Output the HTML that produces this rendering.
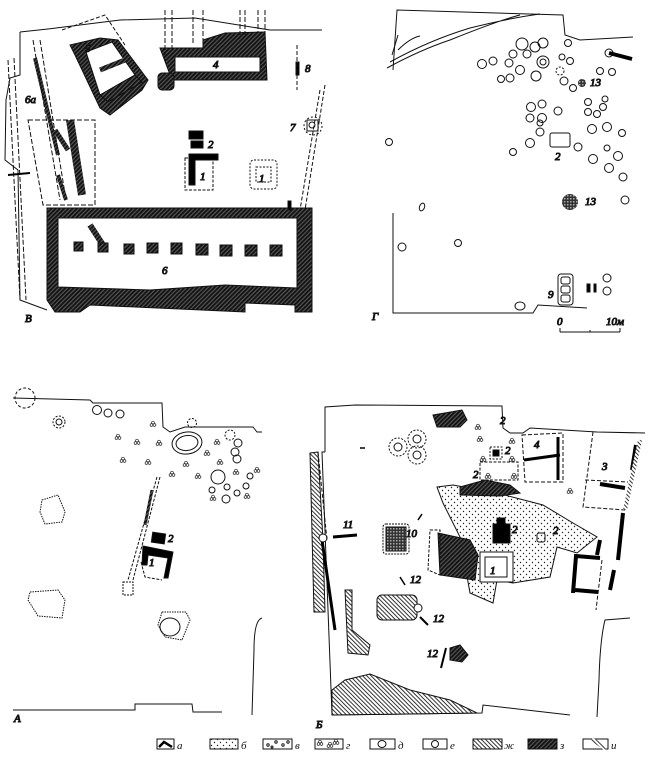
<!DOCTYPE html>
<html><head><meta charset="utf-8"><style>
html,body{margin:0;padding:0;background:#fff}
svg{display:block}
text{font-family:"Liberation Serif",serif;font-style:italic;font-size:11px;fill:#111}
</style></head><body>
<svg width="650" height="763" viewBox="0 0 650 763" xmlns="http://www.w3.org/2000/svg">
<defs>
<pattern id="h" width="3" height="3" patternUnits="userSpaceOnUse" patternTransform="rotate(45)"><rect width="3" height="3" fill="#555"/><rect width="1.8" height="3" fill="#111"/></pattern>
<pattern id="d" width="6" height="6" patternUnits="userSpaceOnUse"><circle cx="1.5" cy="1.5" r="0.7" fill="#222"/><circle cx="4.5" cy="4.5" r="0.7" fill="#222"/></pattern>
<pattern id="f" width="3" height="3" patternUnits="userSpaceOnUse" patternTransform="rotate(-45)"><rect width="3" height="3" fill="#fff"/><rect width="1" height="3" fill="#333"/></pattern>
<pattern id="x" width="3" height="3" patternUnits="userSpaceOnUse"><rect width="3" height="3" fill="#333"/><rect width="1.5" height="1.5" fill="#aaa"/></pattern>
<g id="tr"><circle cx="-1.5" cy="0" r="1.4" fill="none" stroke="#222" stroke-width="0.7"/><circle cx="1.5" cy="0" r="1.4" fill="none" stroke="#222" stroke-width="0.7"/><circle cx="0" cy="-2.4" r="1.4" fill="none" stroke="#222" stroke-width="0.7"/></g>
</defs>
<g fill="none" stroke="#111" stroke-width="1">

<!-- ===== В (top-left) ===== -->
<path d="M20,32 L48,29 L120,20 L195,18 L270,30 L322,30"/>
<path d="M20,32 L20,75 L10,78 L6,100 L5,160 L18,170 L20,300 L47,310"/>
<path d="M325,85 L305,210" stroke-dasharray="4,2"/>
<path d="M320,90 L300,210" stroke-dasharray="4,2"/>
<path d="M8,60 L20,300" stroke-dasharray="5,2"/>
<path d="M14,58 L26,300" stroke-dasharray="5,2"/>
<path d="M47,208 L312,208 L312,312 L295,312 L295,305 L245,303 L245,312 L90,305 L80,312 L55,312 L47,300 Z" fill="url(#h)"/>
<path d="M58,218 L297,218 L297,288 L225,285 L150,290 L58,287 Z" fill="#fff"/>
<path d="M90,225 L103,245" stroke="url(#h)" stroke-width="6"/>
<g fill="url(#h)">
<rect x="74" y="242" width="9" height="9"/><rect x="98" y="243" width="10" height="9"/><rect x="124" y="244" width="10" height="10"/><rect x="147" y="243" width="11" height="10"/><rect x="171" y="243" width="11" height="11"/><rect x="196" y="244" width="12" height="11"/><rect x="220" y="245" width="12" height="11"/><rect x="245" y="245" width="12" height="11"/><rect x="270" y="245" width="12" height="11"/>
</g>
<path d="M70,45 L100,38 L118,40 L148,80 L142,90 L110,115 L100,108 L75,55 Z" fill="url(#h)"/>
<path d="M86,52 L112,42 L135,75 L100,95 Z" fill="#fff"/>
<path d="M100,95 L135,75 L142,82 L108,102 Z" fill="url(#h)"/>
<path d="M100,70 L125,60" stroke="url(#h)" stroke-width="5"/>
<path d="M62,30 L105,15 L125,45" stroke-dasharray="4,2"/>
<path d="M160,48 L203,48 L203,40 L225,33 L265,32 L267,80 L172,80 Z" fill="url(#h)"/>
<path d="M175,57 L260,57 L260,72 L175,72 Z" fill="#fff"/>
<rect x="158" y="73" width="16" height="17" rx="4" fill="url(#h)"/>
<path d="M165,10 L165,60 M172,10 L172,50 M193,10 L193,45 M203,10 L203,45 M240,10 L240,35 M245,10 L245,35 M258,10 L258,33 M265,10 L265,33" stroke-dasharray="5,2"/>
<path d="M35,58 L58,155" stroke="url(#h)" stroke-width="4"/>
<path d="M33,40 L60,200 M40,40 L66,200" stroke-dasharray="5,2"/>
<path d="M70,120 L82,195" stroke="url(#h)" stroke-width="8"/>
<path d="M28,120 L95,120 L95,205 L43,205 Z" stroke-dasharray="5,2"/>
<path d="M55,130 L68,150" stroke="url(#h)" stroke-width="5"/>
<path d="M58,175 L66,200" stroke="url(#h)" stroke-width="4"/>
<path d="M8,175 L30,173" stroke="#000" stroke-width="2"/>
<rect x="189" y="131" width="14" height="8" fill="#000"/><rect x="191" y="141" width="12" height="7" fill="#000"/>
<path d="M185,158 L213,158 L213,190 L185,190 Z" stroke-dasharray="3,1.5"/>
<path d="M189,154 L218,154 L218,160 L195,160 L195,185 L189,185 Z" fill="#000"/>
<rect x="250" y="160" width="27" height="29" rx="4" stroke-dasharray="2,1.5"/>
<rect x="256" y="167" width="15" height="15" stroke-dasharray="2,1.5"/>
<circle cx="313" cy="126" r="9" stroke-dasharray="2,2"/><rect x="307" y="120" width="11" height="11"/><circle cx="312" cy="125" r="3"/>
<rect x="296" y="62" width="3" height="13" fill="#000"/><path d="M297,45 L297,90" stroke-dasharray="4,2"/>
<rect x="288" y="201" width="3" height="9" fill="#000"/>
<text x="85" y="52">5</text><text x="213" y="68">4</text><text x="25" y="103">6a</text><text x="305" y="72">8</text><text x="290" y="131">7</text><text x="208" y="148">2</text><text x="200" y="180">1</text><text x="259" y="182">1</text><text x="162" y="274">6</text><text x="25" y="322" font-size="13">В</text>

<!-- ===== Г ===== -->
<path d="M393,70 L397,10 L563,15 L565,35 L580,40 L633,37"/>
<path d="M387,68 Q420,50 450,40 Q500,20 520,15 M390,62 Q430,40 470,28 Q510,18 540,14 M392,55 L398,35 M398,50 Q410,38 420,36"/>
<path d="M393,213 L393,313 L533,313 L538,305 L587,308"/>
<path d="M560,332 L620,332 M560,328 L560,332 M590,330 L590,332 M620,328 L620,332"/>
<text x="557" y="325">0</text><text x="606" y="325">10м</text><text x="372" y="320" font-size="13">Г</text>
<g>
<circle cx="522" cy="44" r="6"/><circle cx="535" cy="47" r="5"/><circle cx="543" cy="43" r="5"/><circle cx="568" cy="43" r="3.5"/><circle cx="513" cy="54" r="4"/><circle cx="527" cy="54" r="4"/><circle cx="482" cy="64" r="4.5"/><circle cx="493" cy="61" r="4"/><circle cx="509" cy="63" r="4"/><circle cx="543" cy="62" r="6"/><circle cx="543" cy="62" r="3"/><circle cx="562" cy="57" r="3"/><circle cx="570" cy="61" r="3.5"/><circle cx="520" cy="70" r="4.5"/><circle cx="510" cy="78" r="4"/><circle cx="501" cy="79" r="3.5"/><circle cx="536" cy="76" r="5"/><circle cx="564" cy="81" r="4"/><circle cx="573" cy="88" r="3.5"/><circle cx="600" cy="71" r="3.5"/><circle cx="612" cy="72" r="3.5"/><circle cx="609" cy="53" r="4"/>
<circle cx="531" cy="107" r="4.5"/><circle cx="542" cy="104" r="4"/><circle cx="558" cy="111" r="4"/><circle cx="530" cy="118" r="4"/><circle cx="542" cy="118" r="4.5"/><circle cx="540" cy="123" r="3"/><circle cx="540" cy="132" r="4"/><circle cx="530" cy="143" r="4.5"/><circle cx="513" cy="152" r="3.5"/><circle cx="578" cy="147" r="4"/><circle cx="588" cy="102" r="3.5"/><circle cx="605" cy="99" r="3"/><circle cx="603" cy="107" r="3.5"/><circle cx="588" cy="112" r="3.5"/><circle cx="597" cy="114" r="3.5"/><circle cx="592" cy="129" r="4.5"/><circle cx="607" cy="127" r="4.5"/><circle cx="622" cy="133" r="3.5"/><circle cx="607" cy="148" r="3"/><circle cx="618" cy="156" r="4.5"/><circle cx="593" cy="159" r="4.5"/><circle cx="609" cy="168" r="4.5"/><circle cx="623" cy="177" r="4"/><circle cx="625" cy="200" r="4"/><circle cx="389" cy="142" r="3.5"/><ellipse cx="422" cy="207" rx="2.5" ry="4" transform="rotate(20 422 207)"/><circle cx="402" cy="247" r="4"/><circle cx="458" cy="243" r="3.5"/><ellipse cx="520" cy="306" rx="5" ry="4"/><circle cx="607" cy="278" r="4"/><circle cx="607" cy="291" r="4"/>
</g>
<circle cx="560" cy="71" r="4" stroke-dasharray="2,1.5"/>
<path d="M609,53 L632,59" stroke="#000" stroke-width="4"/>
<rect x="550" y="133" width="20" height="14" rx="2"/>
<circle cx="582" cy="83" r="4" fill="url(#x)" stroke="none"/><circle cx="570" cy="202" r="8" fill="url(#x)" stroke="none"/>
<rect x="558" y="274" width="15" height="31" rx="3"/><rect x="561" y="277" width="9" height="7" rx="2"/><rect x="561" y="286" width="9" height="7" rx="2"/><rect x="561" y="295" width="9" height="7" rx="2"/>
<rect x="587" y="284" width="3" height="8" fill="#000"/><rect x="594" y="284" width="2" height="8" fill="#000"/>
<text x="590" y="86">13</text><text x="555" y="160">2</text><text x="585" y="205">13</text><text x="548" y="298">9</text>

<!-- ===== А ===== -->
<path d="M13,398 L90,400 L93,403 L162,403 L163,427 L170,432 L185,427 L253,427 L257,432 L262,432"/>
<circle cx="25" cy="398" r="10" stroke-dasharray="3,2"/>
<circle cx="59" cy="422" r="6" stroke-dasharray="2,1.5"/><circle cx="59" cy="422" r="3"/>
<circle cx="97" cy="410" r="4.5"/><circle cx="108" cy="413" r="4"/><circle cx="120" cy="414" r="4"/>
<ellipse cx="187" cy="443" rx="15" ry="11" transform="rotate(-8 187 443)"/><ellipse cx="187" cy="443" rx="11" ry="7.5" transform="rotate(-8 187 443)"/>
<circle cx="192" cy="423" r="4.5" stroke-dasharray="2,1.5"/><circle cx="230" cy="435" r="5" stroke-dasharray="2,1.5"/>
<circle cx="238" cy="443" r="4"/><circle cx="235" cy="452" r="4"/><circle cx="237" cy="459" r="4"/><circle cx="218" cy="477" r="7"/><circle cx="227" cy="487" r="3"/><circle cx="212" cy="490" r="3"/><circle cx="237" cy="493" r="3"/><circle cx="246" cy="486" r="3"/><circle cx="226" cy="499" r="4"/><circle cx="250" cy="476" r="3"/>
<g>
<use href="#tr" x="153" y="425"/><use href="#tr" x="118" y="438"/><use href="#tr" x="137" y="443"/><use href="#tr" x="159" y="444"/><use href="#tr" x="123" y="461"/><use href="#tr" x="148" y="463"/><use href="#tr" x="172" y="475"/><use href="#tr" x="186" y="465"/><use href="#tr" x="198" y="477"/><use href="#tr" x="207" y="454"/><use href="#tr" x="217" y="443"/><use href="#tr" x="220" y="463"/><use href="#tr" x="236" y="473"/><use href="#tr" x="257" y="471"/><use href="#tr" x="213" y="499"/><use href="#tr" x="247" y="497"/>
</g>
<path d="M42,500 L58,495 L65,512 L62,522 L45,524 L40,512 Z" stroke-dasharray="1.5,1"/>
<path d="M30,592 L58,590 L65,600 L62,618 L38,616 L28,600 Z" stroke-dasharray="1.5,1"/>
<path d="M162,612 L186,612 L190,620 L182,640 L165,637 L158,625 Z" stroke-dasharray="1.5,1"/>
<ellipse cx="170" cy="627" rx="10" ry="9"/>
<path d="M157,477 L128,580 M160,477 L133,580" stroke-dasharray="3,1.5"/>
<path d="M152,490 L145,525" stroke="url(#h)" stroke-width="3"/>
<rect x="152" y="533" width="13" height="10" fill="#000" transform="rotate(8 158 538)"/>
<path d="M143,546 L173,552 L168,578 L164,578 L168,558 L148,555 L147,565 L142,565 Z" fill="#000"/>
<path d="M141,562 L145,577 L162,580" stroke-dasharray="3,1.5"/>
<rect x="123" y="582" width="10" height="13" stroke-dasharray="2,1"/>
<text x="168" y="542">2</text><text x="149" y="566">1</text>
<path d="M262,618 Q254,620 254,650 L252,715"/>
<path d="M13,710 L135,710 L135,704 L192,704 L193,712 L222,712"/>
<text x="14" y="722" font-size="13">А</text>

<!-- ===== Б ===== -->
<path d="M325,452 L325,407 L355,405 L502,406 L503,428 L510,433 L523,433 L530,428 L597,432 L645,433"/>
<path d="M325,452 L322,452 L332,715 L482,713 L483,705 L570,715"/>
<path d="M630,618 L605,620 Q600,640 599,680 L597,717"/>
<path d="M310,453 L318,452 L323,540 L325,612 L314,612 Z" fill="url(#f)"/>
<path d="M322,540 L335,630" stroke="#000" stroke-width="3"/>
<circle cx="323" cy="538" r="4" fill="#fff"/>
<path d="M318,452 L327,540" stroke-dasharray="4,2"/>
<path d="M332,690 L345,680 L370,674 L380,678 L410,690 L450,700 L477,713 L332,715 Z" fill="url(#f)"/>
<path d="M345,590 L352,590 L352,630 L370,645 L368,655 L348,653 Z" fill="url(#f)"/>
<path d="M437,487 L453,485 L497,493 L543,505 L573,523 L597,537 L577,553 L557,547 L550,577 L513,583 L497,580 L493,603 L470,593 L460,537 L443,503 Z" fill="url(#d)"/>
<path d="M438,533 L470,540 L478,555 L475,580 L440,575 Z" fill="url(#h)"/>
<path d="M430,530 L440,530 L440,575 L428,570 Z" stroke-dasharray="3,1.5"/>
<rect x="480" y="552" width="33" height="30" fill="#fff"/><rect x="485" y="557" width="22" height="20"/>
<path d="M497,518 L505,518 L505,524 L510,524 L510,543 L493,543 L493,524 L497,524 Z" fill="#000"/>
<rect x="537" y="533" width="8" height="9" rx="2"/>
<path d="M433,415 L462,410 L467,420 L460,427 L437,427 Z" fill="url(#h)"/>
<path d="M460,487 L485,480 L510,485 L520,493 L500,496 L460,495 Z" fill="url(#h)"/>
<circle cx="398" cy="447" r="9" stroke-dasharray="2,1.5"/><circle cx="398" cy="447" r="4"/>
<circle cx="417" cy="439" r="9" stroke-dasharray="2,1.5"/><circle cx="417" cy="439" r="4"/>
<circle cx="417" cy="455" r="9" stroke-dasharray="2,1.5"/><circle cx="417" cy="455" r="4"/>
<rect x="490" y="447" width="12" height="12" stroke-dasharray="2,1.5"/><rect x="493" y="450" width="6" height="6" fill="#000"/>
<path d="M480,462 L518,462 L518,480 L480,480 Z" stroke-dasharray="3,1.5"/>
<g><use href="#tr" x="478" y="428"/><use href="#tr" x="480" y="440"/><use href="#tr" x="512" y="442"/><use href="#tr" x="512" y="460"/><use href="#tr" x="483" y="460"/><use href="#tr" x="488" y="477"/><use href="#tr" x="514" y="477"/><use href="#tr" x="570" y="492"/></g>
<path d="M522,435 L563,433 L563,482 L525,482 Z" stroke-dasharray="4,2"/>
<path d="M524,460 L560,455" stroke="#000" stroke-width="3"/><path d="M558,437 L558,480" stroke="#000" stroke-width="3"/>
<path d="M593,432 L583,507 L625,510 M585,480 L628,482" stroke-dasharray="4,2"/>
<path d="M600,484 L625,488" stroke="#000" stroke-width="4"/><path d="M636,445 L632,470" stroke="#000" stroke-width="4"/>
<path d="M640,440 L625,510" stroke="url(#f)" stroke-width="4"/>
<path d="M623,513 L618,560 M614,570 L610,590" stroke="#000" stroke-width="4"/>
<path d="M573,593 L576,556 L600,558 M575,590 L598,592" stroke="#000" stroke-width="4"/>
<path d="M602,560 L596,610" stroke-dasharray="4,2"/>
<path d="M600,540 L597,555" stroke="#000" stroke-width="4"/>
<rect x="386" y="527" width="20" height="24" fill="url(#x)"/><rect x="383" y="524" width="26" height="30" rx="3" stroke-dasharray="2,1"/>
<path d="M333,537 L357,535" stroke="#000" stroke-width="3"/>
<rect x="377" y="595" width="40" height="25" rx="5" fill="url(#f)"/><circle cx="418" cy="608" r="4" fill="#fff"/>
<path d="M450,648 L460,645 L468,655 L462,662 L450,660 Z" fill="url(#h)"/>
<path d="M441,668 L446,648" stroke="#000" stroke-width="2"/><path d="M420,617 L428,625" stroke="#000" stroke-width="2"/><path d="M400,577 L405,585" stroke="#000" stroke-width="1.5"/>
<path d="M360,448 L365,448 M422,514 L418,520" stroke="#000" stroke-width="1.5"/>
<text x="500" y="424" font-size="9">2</text><text x="505" y="454" font-size="9">2</text><text x="473" y="478" font-size="9">2</text><text x="512" y="533">2</text><text x="553" y="534" font-size="9">2</text><text x="534" y="448">4</text><text x="602" y="470">3</text><text x="490" y="574">1</text>
<text x="343" y="528">11</text><text x="406" y="537">10</text><text x="410" y="583">12</text><text x="433" y="622">12</text><text x="427" y="657">12</text><text x="316" y="728" font-size="13">Б</text>

<!-- legend -->
<rect x="157" y="739" width="17" height="10"/><path d="M159,747 L164,742 L172,747" stroke="#000" stroke-width="2.5"/>
<rect x="210" y="739" width="28" height="10" fill="url(#d)"/>
<rect x="263" y="739" width="29" height="10"/><circle cx="268" cy="745" r="1.2"/><circle cx="276" cy="742" r="1.2"/><circle cx="283" cy="745" r="1.2"/><circle cx="288" cy="742" r="1.2"/><circle cx="272" cy="747" r="1"/>
<rect x="315" y="739" width="28" height="10"/><use href="#tr" x="320" y="744"/><use href="#tr" x="330" y="746"/><use href="#tr" x="336" y="743"/>
<rect x="370" y="739" width="25" height="10"/><ellipse cx="382" cy="744" rx="4" ry="3.5"/>
<rect x="423" y="739" width="24" height="10"/><circle cx="435" cy="744" r="3.5"/>
<rect x="473" y="739" width="29" height="10" fill="url(#f)"/>
<rect x="528" y="739" width="29" height="10" fill="url(#h)"/>
<rect x="583" y="739" width="25" height="10"/><path d="M592,739 L606,749" stroke="url(#f)" stroke-width="4"/>
</g>
<text x="177" y="749">а</text><text x="241" y="749">б</text><text x="295" y="749">в</text><text x="346" y="749">г</text><text x="398" y="749">д</text><text x="450" y="749">е</text><text x="504" y="749">ж</text><text x="560" y="749">з</text><text x="611" y="749">и</text>
</svg>
</body></html>
